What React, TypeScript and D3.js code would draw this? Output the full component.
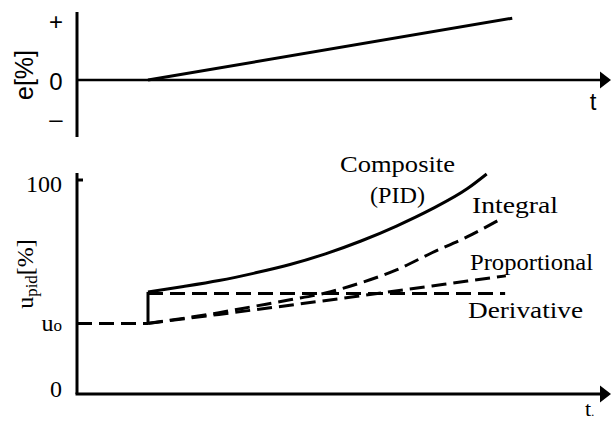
import React from "react";
import * as d3 from "d3";

// ---- data ----
// time axis in arbitrary units; the step / ramp starts at t = 1
const errorT = [1, 6.13];
const errorV = [0, 1.03];

const U0 = 33;
const baselineT = [0, 1];

const compositeT = [1, 1.5, 2, 2.5, 3, 3.5, 4, 4.5, 5, 5.5, 5.77];
const compositeU = [47.7, 50.2, 53, 56.5, 60.5, 65.5, 71.5, 78.5, 86.5, 96, 102.8];

const integralT = [1, 2, 2.5, 3, 3.5, 4, 4.5, 5, 5.5, 5.94];
const integralU = [33, 38, 41, 44, 47.2, 52, 58, 66, 73.5, 81.3];

const proportionalT = [1, 2, 3, 4, 5, 5.5, 6.04];
const proportionalU = [33, 37.2, 41.5, 45.9, 50.5, 52.8, 55.2];

const derivativeT = [1, 6.03];
const derivativeU = [47, 47];

const eTickValues = [1, 0, -0.63];
const eTickLabels = ["+", "0", "\u2013"];

const uTickValues = [100, U0, 0];

const SERIF = '"Liberation Serif", "Times New Roman", "DejaVu Serif", serif';
const SANS = '"Liberation Sans", Arial, sans-serif';

export default function App() {
  const W = 611;
  const H = 421;
  const x = d3.scaleLinear().domain([0, 7.5]).range([77, 609.5]);
  const yTop = d3.scaleLinear().domain([0, 1]).range([80, 20]);
  const yBot = d3.scaleLinear().domain([0, 100]).range([394, 180]);

  const zip = (ts: number[], vs: number[]) => ts.map((t, i) => [t, vs[i]] as [number, number]);

  const lineTop = d3
    .line<[number, number]>()
    .x((d) => x(d[0]))
    .y((d) => yTop(d[1]));
  const lineBotLinear = d3
    .line<[number, number]>()
    .x((d) => x(d[0]))
    .y((d) => yBot(d[1]));
  const lineBotCurve = d3
    .line<[number, number]>()
    .x((d) => x(d[0]))
    .y((d) => yBot(d[1]))
    .curve(d3.curveMonotoneX);

  const axisX = x(0);
  const dash = "15 7";
  const sw = 3;

  const arrow = (y: number) => `M600,${y - 8.5} L611,${y} L600,${y + 8.5} Z`;

  const uTickLabelBaseline = (v: number) => {
    if (v === 0) return yBot(v) + 3;
    if (v === 100) return yBot(v) + 12;
    return yBot(v) + 8;
  };

  const serif = { fontFamily: SERIF } as React.CSSProperties;
  const sans = { fontFamily: SANS } as React.CSSProperties;

  return (
    <div style={{ position: "absolute", left: 0, top: 0, width: W, height: H, background: "#fff" }}>
      <svg width={W} height={H} style={{ display: "block" }}>
        <rect width={W} height={H} fill="#fff" />

        {/* ---------- TOP PANEL: error ---------- */}
        <line x1={axisX} x2={axisX} y1={12} y2={137} stroke="#000" strokeWidth={sw} />
        <line x1={axisX} x2={603} y1={yTop(0)} y2={yTop(0)} stroke="#000" strokeWidth={2.6} />
        <path d={arrow(yTop(0))} fill="#000" />
        <path d={lineTop(zip(errorT, errorV)) || ""} fill="none" stroke="#000" strokeWidth={sw} />
        {eTickValues.map((v, i) => (
          <text
            key={"et" + i}
            x={56}
            y={yTop(v) + 1}
            textAnchor="middle"
            dominantBaseline="central"
            style={sans}
            fontSize={24}
            fill="#000"
          >
            {eTickLabels[i]}
          </text>
        ))}
        <text
          transform={`translate(24,75) rotate(-90)`}
          textAnchor="middle"
          dominantBaseline="central"
          style={sans}
          fontSize={25}
          fill="#000"
        >
          e[%]
        </text>
        <text x={593} y={110} textAnchor="middle" style={sans} fontSize={24} fill="#000">
          t
        </text>

        {/* ---------- BOTTOM PANEL: controller output ---------- */}
        <line x1={axisX} x2={axisX} y1={173} y2={yBot(0)} stroke="#000" strokeWidth={sw} />
        <line x1={axisX - 1.5} x2={603} y1={yBot(0)} y2={yBot(0)} stroke="#000" strokeWidth={sw} />
        <path d={arrow(yBot(0))} fill="#000" />
        <line x1={axisX} x2={axisX + 6} y1={yBot(100)} y2={yBot(100)} stroke="#000" strokeWidth={sw} />

        {uTickValues.map((v, i) => (
          <text
            key={"ut" + i}
            x={62}
            y={uTickLabelBaseline(v)}
            textAnchor="end"
            style={serif}
            fontSize={24}
            fill="#000"
          >
            {v === U0 ? (
              <>
                u<tspan fontSize={17}>o</tspan>
              </>
            ) : (
              String(v)
            )}
          </text>
        ))}
        <text
          transform={`translate(33,274) rotate(-90)`}
          textAnchor="middle"
          style={serif}
          fontSize={24}
          fill="#000"
        >
          u
          <tspan fontSize={17} dy={4}>
            pid
          </tspan>
          <tspan dy={-4}>[%]</tspan>
        </text>
        <text x={585} y={416} style={serif} fontSize={22} fill="#000">
          t<tspan fontSize={12}>.</tspan>
        </text>

        {/* baseline u0 before the step */}
        <path
          d={lineBotLinear(baselineT.map((t) => [t, U0] as [number, number])) || ""}
          fill="none"
          stroke="#000"
          strokeWidth={sw}
          strokeDasharray={dash}
        />
        {/* derivative */}
        <path
          d={lineBotLinear(zip(derivativeT, derivativeU)) || ""}
          fill="none"
          stroke="#000"
          strokeWidth={sw}
          strokeDasharray={dash}
        />
        {/* proportional */}
        <path
          d={lineBotCurve(zip(proportionalT, proportionalU)) || ""}
          fill="none"
          stroke="#000"
          strokeWidth={sw}
          strokeDasharray={dash}
        />
        {/* integral */}
        <path
          d={lineBotCurve(zip(integralT, integralU)) || ""}
          fill="none"
          stroke="#000"
          strokeWidth={sw}
          strokeDasharray={dash}
        />
        {/* composite: vertical step then curve */}
        <path
          d={lineBotLinear([[compositeT[0], U0], [compositeT[0], compositeU[0]]]) || ""}
          fill="none"
          stroke="#000"
          strokeWidth={sw}
        />
        <path d={lineBotCurve(zip(compositeT, compositeU)) || ""} fill="none" stroke="#000" strokeWidth={sw} />

        {/* series labels */}
        <text x={397.5} y={172} textAnchor="middle" style={serif} fontSize={24} fill="#000" textLength={115} lengthAdjust="spacingAndGlyphs">
          Composite
        </text>
        <text x={397.5} y={203} textAnchor="middle" style={serif} fontSize={24} fill="#000" textLength={55} lengthAdjust="spacingAndGlyphs">
          (PID)
        </text>
        <text x={472} y={213} style={serif} fontSize={24} fill="#000" textLength={86} lengthAdjust="spacingAndGlyphs">
          Integral
        </text>
        <text x={470} y={270} style={serif} fontSize={24} fill="#000" textLength={123} lengthAdjust="spacingAndGlyphs">
          Proportional
        </text>
        <text x={468} y={318} style={serif} fontSize={24} fill="#000" textLength={115} lengthAdjust="spacingAndGlyphs">
          Derivative
        </text>
      </svg>
    </div>
  );
}
